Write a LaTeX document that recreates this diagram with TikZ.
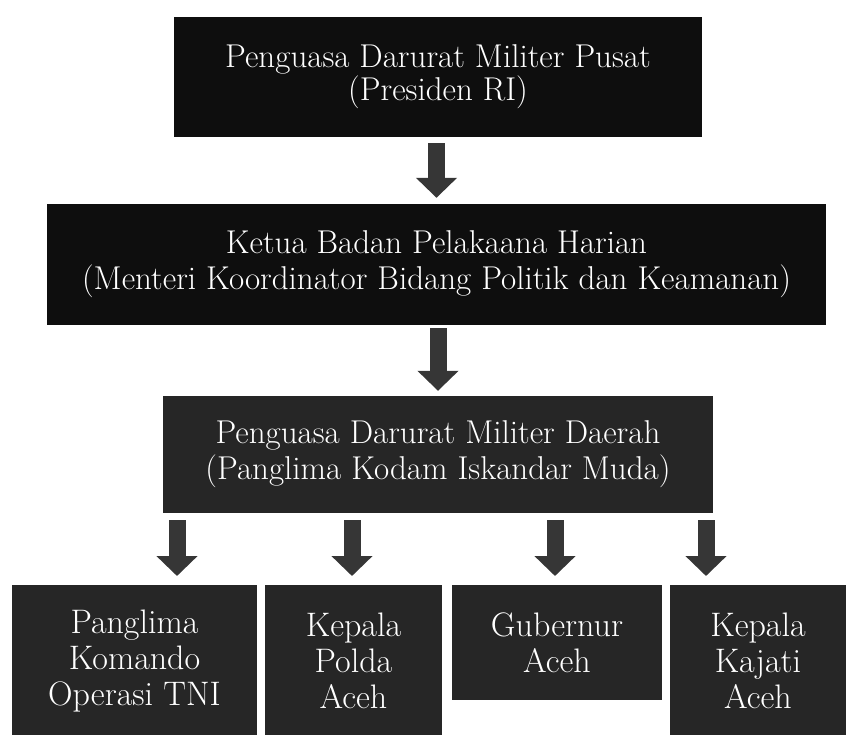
\documentclass[tikz,border=0pt]{standalone}
\usetikzlibrary{arrows.meta}

\definecolor{boxdark}{HTML}{0E0E0E}
\definecolor{boxgray}{HTML}{262626}
\definecolor{arrowgray}{HTML}{363636}

\tikzset{
  topbox/.style = {fill=boxdark, text=white, align=center, inner sep=0pt,
                   font=\fontsize{33}{36}\selectfont},
  lowbox/.style = {fill=boxgray, text=white, align=center, inner sep=0pt,
                   anchor=north, font=\fontsize{34}{36}\selectfont},
  blockarrow/.style = {draw=arrowgray, line width=17pt,
                   -{Triangle[width=40pt,length=20pt]}}
}

\begin{document}
\begin{tikzpicture}[x=1pt, y=-1pt]

     \useasboundingbox (0,0) rectangle (846,734);
     \clip (0,0) rectangle (846,734);

     % the three levels on top
     \node (pdm) at (438,77) [topbox, minimum width=528, minimum height=120,
                              font=\fontsize{33}{33}\selectfont]
          {Penguasa Darurat Militer Pusat\\(Presiden RI)};
     \node (kbph) at (436.5,264.5) [topbox, minimum width=779, minimum height=121]
          {Ketua Badan Pelakaana Harian\\(Menteri Koordinator Bidang Politik dan Keamanan)};
     \node (pddm) at (438,454.5) [topbox, fill=boxgray, minimum width=550, minimum height=117]
          {Penguasa Darurat Militer Daerah\\(Panglima Kodam Iskandar Muda)};

     \draw [blockarrow, shorten <=6pt, shorten >=6pt] (kbph.north |- pdm.south) -- (kbph.north);
     \draw [blockarrow, shorten <=3pt, shorten >=5pt] (pddm.north |- kbph.south) -- (pddm.north);

     % the four boxes at the bottom
     \node (tni) at (134.5,585) [lowbox, minimum width=245, minimum height=152]
          {Panglima\\Komando\\Operasi TNI};
     \node (polda) at (353.5,585) [lowbox, minimum width=177, minimum height=152]
          {Kepala\\Polda\\Aceh};
     \node (gub) at (557,585) [lowbox, minimum width=210, minimum height=115]
          {Gubernur\\Aceh};
     \node (kajati) at (758,585) [lowbox, minimum width=176, minimum height=152]
          {Kepala\\Kajati\\Aceh};

     \foreach \x/\b in {177/tni, 352/polda, 555/gub, 706/kajati} {
       \coordinate (top\b) at (\x,520);
       \draw [blockarrow, shorten >=9pt] (top\b) -- (top\b |- \b.north);
     }

  \end{tikzpicture}
\end{document}
